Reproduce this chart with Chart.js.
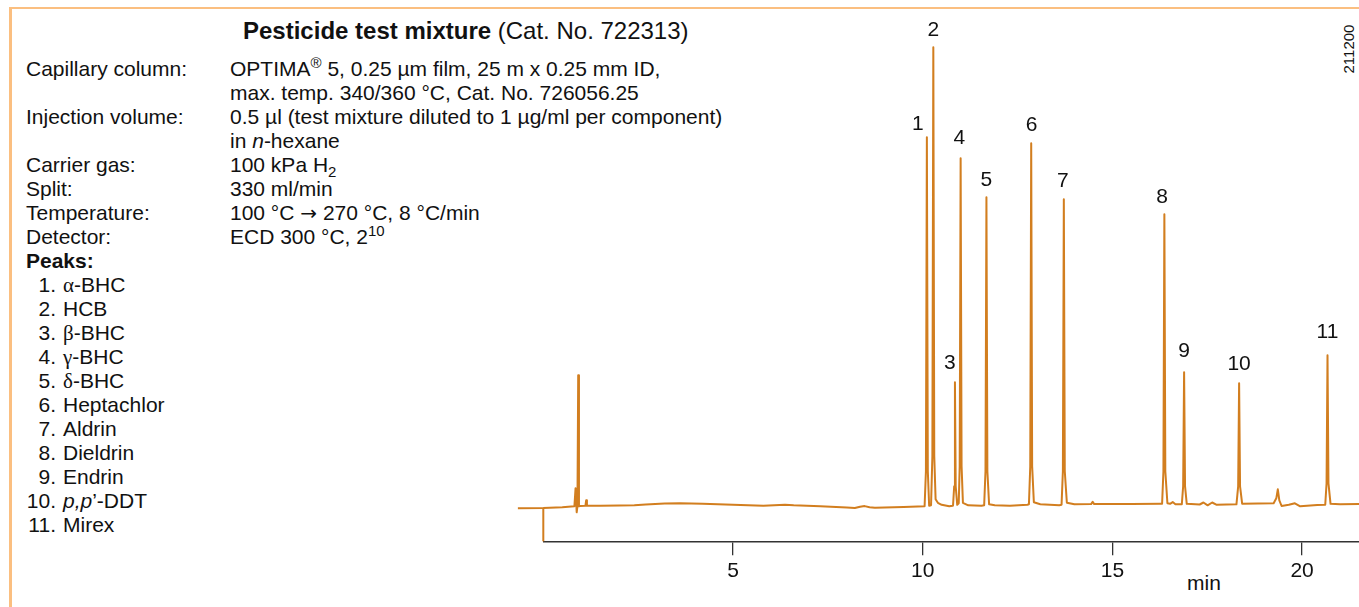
<!DOCTYPE html>
<html>
<head>
<meta charset="utf-8">
<script src="https://cdn.jsdelivr.net/npm/chart.js@4.4.1/dist/chart.umd.min.js"></script>
<style>
  html, body { margin: 0; padding: 0; background: #fff; }
  body { width: 1359px; height: 607px; position: relative; overflow: hidden;
         font-family: "Liberation Sans", Arial, Helvetica, sans-serif; color: #111; }
  #frame { position: absolute; left: 9px; top: 7px; width: 1400px; height: 700px;
           border-left: 3px solid #fbbf80; border-top: 2px solid #fbbf80; }
  #chart { position: absolute; left: 0; top: 0; display: block; }
  .row { position: absolute; left: 0; height: 24px; line-height: 24px; font-size: 21px; white-space: nowrap; }
  .lab { position: absolute; left: 26px; }
  .val { position: absolute; left: 230px; }
  .num { position: absolute; left: 0; width: 56px; text-align: right; }
  .name { position: absolute; left: 63px; }
  .gr { font-family: "Liberation Serif", "DejaVu Serif", serif; }
  .arr { font-family: "DejaVu Sans", sans-serif; font-size: 20px; }
  .sup { font-size: 15px; position: relative; top: -8px; }
  .sub { font-size: 15px; position: relative; top: 5px; }
  #title { position: absolute; left: 243px; top: 19px; font-size: 24px; line-height: 24px; white-space: nowrap; }
  #minlab { position: absolute; left: 1187px; top: 571px; font-size: 21px; line-height: 24px; }
  #code { position: absolute; left: 1349px; top: 49px; font-size: 15px; line-height: 16px;
          transform: translate(-50%, -50%) rotate(-90deg); white-space: nowrap; }
</style>
</head>
<body>
<div id="frame"></div>
<div id="title"><b>Pesticide test mixture</b> (Cat. No. 722313)</div>
<div id="info"></div>
<div id="minlab">min</div>
<div id="code">211200</div>
<canvas id="chart" width="1359" height="607"></canvas>
<script>
// ---- data ----
const traceTime = [
  -0.67, 0.00, 0.50, 0.82, 0.85, 0.88, 0.90, 0.92, 0.94, 0.97, 1.11, 1.13, 1.15,
  1.50, 2.00, 2.40, 2.70, 3.20, 3.60, 4.20, 5.00, 5.80, 6.37, 6.60, 7.30, 8.00,
  8.21, 8.35, 8.47, 8.60, 8.74, 9.50,
  10.05, 10.085, 10.11, 10.135, 10.17,
  10.22, 10.255, 10.28, 10.305, 10.34, 10.40, 10.50, 10.70, 10.79,
  10.80, 10.83, 10.85, 10.87, 10.91,
  10.95, 10.975, 11.00, 11.025, 11.06, 11.20, 11.55,
  11.62, 11.655, 11.68, 11.705, 11.75, 11.90, 12.30, 12.76,
  12.80, 12.835, 12.86, 12.885, 12.93, 13.10, 13.60,
  13.66, 13.695, 13.72, 13.745, 13.80, 14.00, 14.44, 14.48, 14.52, 15.50, 16.28,
  16.31, 16.345, 16.37, 16.395, 16.45, 16.52, 16.59, 16.66,
  16.83, 16.865, 16.89, 16.915, 16.96, 17.30, 17.40, 17.51, 17.63, 17.75, 18.27,
  18.28, 18.315, 18.34, 18.365, 18.42, 19.25, 19.32, 19.36, 19.40, 19.46, 19.65, 19.81, 19.95, 20.40,
  20.61, 20.645, 20.67, 20.695, 20.75, 21.00, 21.50
];
const traceSignal = [
  33, 33.3, 34, 35, 53, 29, 35, 166, 35, 35.3, 35.5, 41, 35.5,
  35.5, 35.8, 36, 36.8, 37.8, 38, 37.5, 36.5, 35.6, 36.6, 36, 35, 33.8,
  33.3, 34.5, 35.2, 34, 33.6, 34.2,
  35, 70, 404, 70, 35.5,
  36, 85, 494, 85, 42, 38.5, 36.5, 35, 35.5,
  36, 55, 159, 55, 36.5,
  38, 75, 383, 75, 38.5, 36, 35.5,
  36, 70, 344, 70, 37, 36, 35.5, 36.5,
  37, 75, 398, 75, 39, 37, 36,
  36.5, 70, 342, 70, 38.5, 37, 37.2, 39.5, 37.2, 37.4, 37.6,
  37.6, 70, 327, 70, 38, 37.5, 39.2, 37,
  37, 55, 169, 55, 37.5, 36.8, 38.8, 36, 38.8, 36.5, 37,
  37, 55, 158, 55, 37.6, 38, 43, 52, 41, 35.3, 36.5, 38, 35, 36.3,
  36.5, 58, 186, 58, 37.5, 37, 37.2
];
const startMarkerTime = [0, 0];
const startMarkerSignal = [0, 33.3];

const peakLabels = ["1", "2", "3", "4", "5", "6", "7", "8", "9", "10", "11"];
const peakTimes  = [10.11, 10.28, 10.85, 11.00, 11.68, 12.86, 13.72, 16.37, 16.89, 18.34, 20.67];
const peakTops   = [404, 494, 159, 383, 344, 398, 342, 327, 169, 158, 186];

const compounds = ["α|-BHC", "HCB", "β|-BHC", "γ|-BHC", "δ|-BHC", "Heptachlor", "Aldrin",
                   "Dieldrin", "Endrin", "<i>p,p</i>’-DDT", "Mirex"];
const tickValues = [5, 10, 15, 20];

// ---- info text block ----
const infoRows = [
  ["Capillary column:", "OPTIMA<span class='sup'>®</span> 5, 0.25 µm film, 25 m x 0.25 mm ID,"],
  ["", "max. temp. 340/360 °C, Cat. No. 726056.25"],
  ["Injection volume:", "0.5 µl (test mixture diluted to 1 µg/ml per component)"],
  ["", "in <i>n</i>-hexane"],
  ["Carrier gas:", "100 kPa H<span class='sub'>2</span>"],
  ["Split:", "330 ml/min"],
  ["Temperature:", "100 °C <span class='arr'>→</span> 270 °C, 8 °C/min"],
  ["Detector:", "ECD 300 °C, 2<span class='sup'>10</span>"],
  ["<b>Peaks:</b>", ""]
];
const info = document.getElementById("info");
let html = "";
const rowTop = i => (56.5 + 24 * i).toFixed(1);
infoRows.forEach((r, i) => {
  html += `<div class="row" style="top:${rowTop(i)}px"><span class="lab">${r[0]}</span><span class="val">${r[1]}</span></div>`;
});
compounds.forEach((c, k) => {
  let name = c;
  if (c.indexOf("|") >= 0) { const p = c.split("|"); name = `<span class="gr">${p[0]}</span>${p[1]}`; }
  html += `<div class="row" style="top:${rowTop(9 + k)}px"><span class="num">${k + 1}.</span><span class="name">${name}</span></div>`;
});
info.innerHTML = html;

// ---- chart ----
const LINE = "#d27e1f";
const FONT = "'Liberation Sans', Arial, Helvetica, sans-serif";

const peakLabelPlugin = {
  id: "peakLabels",
  afterDatasetsDraw(chart, args, opts) {
    const { ctx, scales: { x, y } } = chart;
    ctx.save();
    ctx.font = `21px ${FONT}`;
    ctx.fillStyle = "#111";
    ctx.textAlign = "center";
    ctx.textBaseline = "alphabetic";
    peakLabels.forEach((lab, i) => {
      const n = opts.nudges[i];
      const px = x.getPixelForValue(peakTimes[i]) + n[0];
      const py = y.getPixelForValue(peakTops[i]) - n[1];
      ctx.fillText(lab, px, py);
    });
    ctx.restore();
  }
};

const trace = traceTime.map((t, i) => ({ x: t, y: traceSignal[i] }));
const marker = startMarkerTime.map((t, i) => ({ x: t, y: startMarkerSignal[i] }));

new Chart(document.getElementById("chart"), {
  type: "line",
  data: {
    datasets: [
      { data: trace, borderColor: LINE, borderWidth: 2, pointRadius: 0, tension: 0,
        clip: false, borderJoinStyle: "round", fill: false },
      { data: marker, borderColor: LINE, borderWidth: 2, pointRadius: 0, clip: false, fill: false }
    ]
  },
  options: {
    responsive: false,
    animation: false,
    events: [],
    layout: { padding: { left: 543.3, top: 41.3, right: 0, bottom: 0 } },
    plugins: {
      legend: { display: false },
      tooltip: { enabled: false },
      peakLabels: {
        nudges: [[-9, 7], [0, 11], [-5, 13], [-1.4, 14], [0, 11], [0.4, 12.7],
                 [-1, 12], [-2.3, 11], [0, 15], [0, 13.3], [0, 17.4]]
      }
    },
    scales: {
      x: {
        type: "linear", min: 0, max: 21.5,
        afterBuildTicks: s => { s.ticks = tickValues.map(v => ({ value: v })); },
        afterFit: s => { s.height = 65.7; },
        grid: { display: true, drawOnChartArea: false, drawTicks: true, tickLength: 14,
                color: "#333", lineWidth: 1.3 },
        border: { display: true, color: "#333", width: 1.5 },
        ticks: { font: { family: FONT, size: 21 }, color: "#111", padding: 3,
                 maxRotation: 0, autoSkip: false, callback: v => String(v) }
      },
      y: { min: 0, max: 500, display: false }
    }
  },
  plugins: [peakLabelPlugin]
});
</script>
</body>
</html>
